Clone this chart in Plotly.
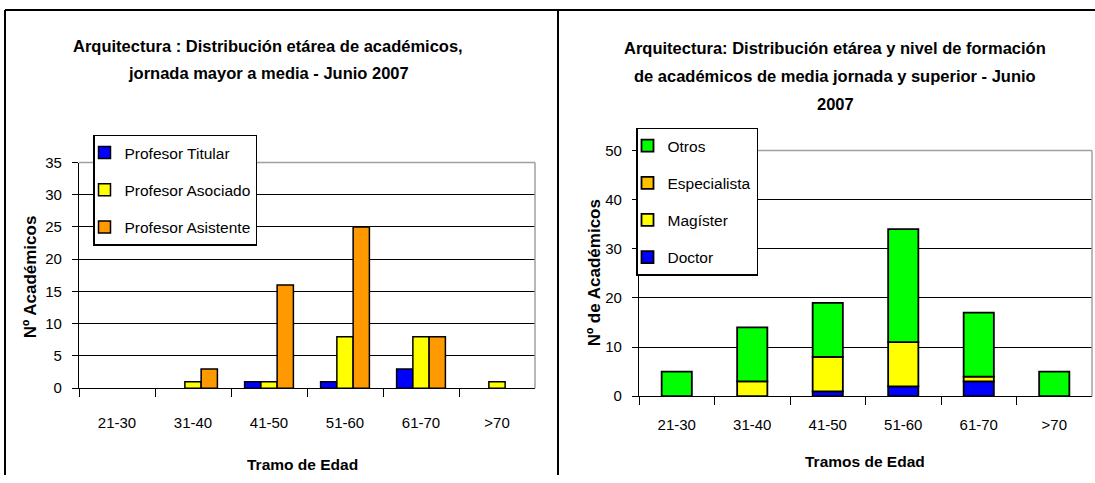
import numpy as np
import plotly.graph_objects as go

# ---------------- data ----------------
categories = ["21-30", "31-40", "41-50", "51-60", "61-70", ">70"]

# left chart
titular = [0, 0, 1, 1, 3, 0]
asociado = [0, 1, 1, 8, 8, 1]
asistente = [0, 3, 16, 25, 8, 0]

# right chart (stacked)
doctor = [0, 0, 1, 2, 3, 0]
magister = [0, 3, 7, 9, 1, 0]
especialista = [0, 0, 0, 0, 0, 0]
otros = [5, 11, 11, 23, 13, 5]

left_ticks = [0, 5, 10, 15, 20, 25, 30, 35]
right_ticks = [0, 10, 20, 30, 40, 50]

# ---------------- layout helpers ----------------
W, H = 1095, 483
# vertical calibration of the photographed page (measured on earlier runs)
Y_OFF, Y_SCALE = 8.3, 0.966

def fx(p):
    return min(1.0, max(0.0, p / W))

def fy(r):
    page = (r - Y_OFF) / Y_SCALE
    return min(1.0, max(0.0, 1 - page / H))

FONT = "Liberation Sans, Arial, sans-serif"
tickfont = dict(family=FONT, size=15, color="black")

def nz(vals):
    return [v if v else None for v in vals]

fig = go.Figure()

# left grouped bars
left_series = [("Profesor Titular", titular, "#0000FF"),
               ("Profesor Asociado", asociado, "#FFFF00"),
               ("Profesor Asistente", asistente, "#FF9900")]
bw = 0.214
for i, (name, vals, col) in enumerate(left_series):
    fig.add_trace(go.Bar(
        x=categories, y=nz(vals), name=name, legendgroup=name, legend="legend",
        legendrank=i + 1,
        marker=dict(color=col, line=dict(color="black", width=1.5)),
        width=bw, offset=-1.5 * bw + i * bw, xaxis="x", yaxis="y"))

# right stacked bars
right_series = [("Doctor", doctor, "#0000FF"),
                ("Magíster", magister, "#FFFF00"),
                ("Especialista", especialista, "#FFC000"),
                ("Otros", otros, "#00FF00")]
base = np.zeros(len(categories))
for i, (name, vals, col) in enumerate(right_series):
    fig.add_trace(go.Bar(
        x=categories, y=nz(vals), base=base.copy(), name=name, legendgroup=name,
        legend="legend2", legendrank=len(right_series) - i,
        marker=dict(color=col, line=dict(color="black", width=1.8)),
        width=0.4, offset=-0.2, xaxis="x2", yaxis="y2"))
    base = base + np.array(vals)

# plot areas in reference pixels
L_x0, L_x1, L_y0, L_y1 = 79, 535, 162, 388
R_x0, R_x1, R_y0, R_y1 = 639, 1092, 150, 396

xcommon = dict(type="category", range=[-0.5, 5.5], showline=True, linecolor="black",
               linewidth=1.2, ticks="outside", tickson="boundaries", ticklen=8,
               tickcolor="black", tickwidth=1.2, showgrid=False, tickfont=tickfont,
               fixedrange=True)
ycommon = dict(showline=True, linecolor="black", linewidth=1.2, ticks="outside",
               ticklen=6, tickcolor="black", tickwidth=1.2, showgrid=True,
               gridcolor="black", gridwidth=1.2, zeroline=False, tickfont=tickfont,
               fixedrange=True)

legfont = dict(family=FONT, size=15.5, color="black")
fig.update_layout(
    width=W, height=H, margin=dict(l=0, r=0, t=0, b=0, pad=0), autosize=False,
    paper_bgcolor="white", plot_bgcolor="white", barmode="overlay",
    xaxis=dict(domain=[fx(L_x0), fx(L_x1)], anchor="y", ticklabelstandoff=21, **xcommon),
    yaxis=dict(domain=[fy(L_y1), fy(L_y0)], anchor="x", range=[0, 35],
               tickvals=left_ticks, ticklabelstandoff=7, **ycommon),
    xaxis2=dict(domain=[fx(R_x0), fx(R_x1)], anchor="y2", ticklabelstandoff=15, **xcommon),
    yaxis2=dict(domain=[fy(R_y1), fy(R_y0)], anchor="x2", range=[0, 50],
                tickvals=right_ticks, ticklabelstandoff=7, **ycommon),
    legend=dict(x=fx(93), y=fy(134), xanchor="left", yanchor="top",
                bordercolor="black", borderwidth=1.5, bgcolor="white",
                font=legfont, traceorder="grouped", tracegroupgap=14, itemwidth=30,
                indentation=-10),
    legend2=dict(x=fx(636), y=fy(127), xanchor="left", yanchor="top",
                 bordercolor="black", borderwidth=1.5, bgcolor="white",
                 font=legfont, traceorder="grouped", tracegroupgap=14, itemwidth=30,
                 indentation=-10),
    showlegend=True,
)

# gray plot-area borders (top and right)
for xr, yr in (("x domain", "y domain"), ("x2 domain", "y2 domain")):
    fig.add_shape(type="line", xref=xr, yref=yr, x0=0, x1=1, y0=1, y1=1,
                  line=dict(color="#A0A0A0", width=1.5))
    fig.add_shape(type="line", xref=xr, yref=yr, x0=1, x1=1, y0=0, y1=1,
                  line=dict(color="#A0A0A0", width=1.5))

# panel frame lines
TOP = 9.3
for x0, y0, x1, y1 in ((5, TOP, W, TOP), (5, TOP, 5, 500), (558, TOP, 558, 500)):
    fig.add_shape(type="line", xref="paper", yref="paper",
                  x0=fx(x0), y0=fy(y0), x1=fx(x1), y1=fy(y1),
                  line=dict(color="black", width=2))

def ann(text, x, y, font, angle=0):
    fig.add_annotation(text=text, x=fx(x), y=fy(y), xref="paper", yref="paper",
                       showarrow=False, xanchor="center", yanchor="middle",
                       font=font, textangle=angle)

tfont = dict(family=FONT, size=16.5, color="black")
ann("<b>Arquitectura : Distribución etárea de académicos,</b>", 268, 45, tfont)
ann("<b>jornada mayor a media - Junio 2007</b>", 268, 72, tfont)
ann("<b>Arquitectura: Distribución etárea y nivel de formación</b>", 835, 47, tfont)
ann("<b>de académicos de media jornada y superior - Junio</b>", 835, 75, tfont)
ann("<b>2007</b>", 835, 103, tfont)

xtfont = dict(family=FONT, size=15.5, color="black")
ann("<b>Tramo de Edad</b>", 303, 464, xtfont)
ann("<b>Tramos de Edad</b>", 865, 461, xtfont)

yfont = dict(family=FONT, size=17, color="black")
ann("<b>Nº Académicos</b>", 30, 277, yfont, angle=-90)
ann("<b>Nº de Académicos</b>", 594, 273, yfont, angle=-90)

fig.write_html("out.html", config={"displayModeBar": False},
               post_script="document.body.style.margin='0px';")
